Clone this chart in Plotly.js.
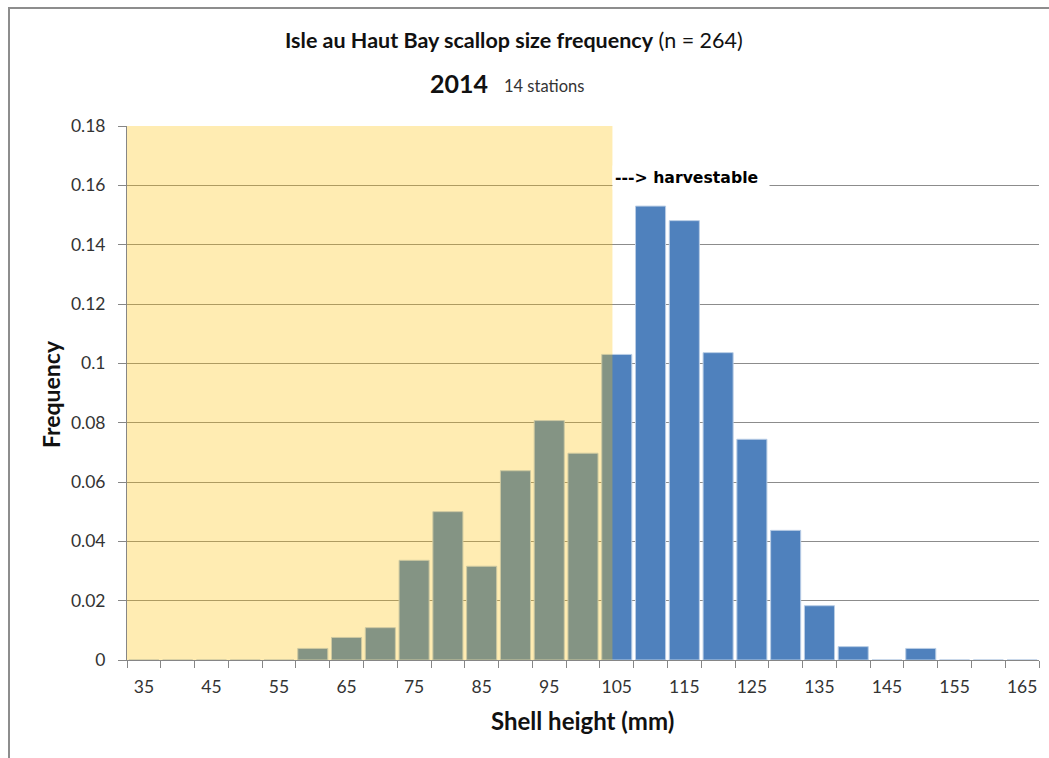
<!DOCTYPE html>
<html>
<head>
<meta charset="utf-8">
<script src="https://cdn.plot.ly/plotly-3.0.1.min.js"></script>
<style>
  html, body { margin: 0; padding: 0; background: #ffffff; overflow: hidden; }
  #chart { position: absolute; left: 0; top: 0; width: 1049px; height: 758px; }
  #frame {
    position: absolute; left: 8px; top: 7px; width: 1200px; height: 900px;
    border-left: 2px solid #8d8d8d; border-top: 2px solid #8d8d8d;
    pointer-events: none; box-sizing: border-box;
  }
</style>
</head>
<body>
<div id="chart"></div>
<div id="frame"></div>
<script>
// Shell height classes (mm), 5 mm bins
const shellHeight = [35, 40, 45, 50, 55, 60, 65, 70, 75, 80, 85, 90, 95, 100,
                     105, 110, 115, 120, 125, 130, 135, 140, 145, 150, 155, 160, 165];
// Relative frequency per class
const frequency = [0, 0, 0, 0, 0, 0.0039, 0.0076, 0.0109, 0.0336, 0.0500, 0.0316, 0.0638, 0.0807, 0.0697,
                   0.1030, 0.1530, 0.1481, 0.1036, 0.0744, 0.0437, 0.0183, 0.0045, 0, 0.0039, 0, 0, 0];

// Axis labels
const xTickVals = [35, 45, 55, 65, 75, 85, 95, 105, 115, 125, 135, 145, 155, 165];
const xTickText = xTickVals.map(String);
const yTickVals = [0, 0.02, 0.04, 0.06, 0.08, 0.1, 0.12, 0.14, 0.16, 0.18];
const yTickText = ['0', '0.02', '0.04', '0.06', '0.08', '0.1', '0.12', '0.14', '0.16', '0.18'];

// Below this shell height scallops are not harvestable
const harvestLimit = 104.36;
const binWidth = 5;

const xMin = shellHeight[0] - binWidth / 2;
const xMax = shellHeight[shellHeight.length - 1] + binWidth / 2;
const binEdges = shellHeight.map(v => v - binWidth / 2).concat([xMax]);

const FONT = 'Lato, "Open Sans", sans-serif';
const AXIS_GREY = '#868686';

const trace = {
  type: 'bar',
  x: shellHeight,
  y: frequency,
  marker: { color: '#4f81bd', line: { color: '#b9cde5', width: 1 } },
  hoverinfo: 'x+y'
};

const layout = {
  width: 1049,
  height: 758,
  margin: { l: 127, r: 10, t: 126, b: 98 },
  paper_bgcolor: '#ffffff',
  plot_bgcolor: '#ffffff',
  showlegend: false,
  bargap: 0.11,
  font: { family: FONT, color: '#333333', size: 17 },
  xaxis: {
    range: [xMin, xMax],
    tickmode: 'array',
    tickvals: xTickVals,
    ticktext: xTickText,
    ticks: 'outside',
    ticklen: 7,
    tickcolor: 'rgba(0,0,0,0)',
    ticklabelstandoff: 4,
    tickfont: { family: FONT, size: 17.5, color: '#333333' },
    showgrid: false,
    zeroline: false,
    showline: true,
    linecolor: AXIS_GREY,
    linewidth: 1,
    minor: {
      tickmode: 'array',
      tickvals: binEdges,
      ticks: 'outside',
      ticklen: 7,
      tickcolor: AXIS_GREY,
      tickwidth: 1,
      showgrid: false
    },
    fixedrange: true
  },
  yaxis: {
    range: [0, 0.18],
    tickmode: 'array',
    tickvals: yTickVals,
    ticktext: yTickText,
    ticks: 'outside',
    ticklen: 8,
    tickcolor: AXIS_GREY,
    ticklabelstandoff: 9,
    tickfont: { family: FONT, size: 17.5, color: '#333333' },
    showgrid: true,
    gridcolor: '#8c8c8c',
    gridwidth: 1,
    zeroline: false,
    showline: true,
    linecolor: AXIS_GREY,
    linewidth: 1,
    fixedrange: true
  },
  shapes: [
    {
      // undersized region
      type: 'rect', xref: 'x', yref: 'y', layer: 'above',
      x0: xMin, x1: harvestLimit, y0: 0, y1: 0.18,
      fillcolor: 'rgba(255,192,0,0.3)',
      line: { width: 0 }
    }
  ],
  annotations: [
    {
      xref: 'paper', yref: 'paper', x: 0.4238, y: 1.1610,
      xanchor: 'center', yanchor: 'middle', showarrow: false,
      text: '<b>Isle au Haut Bay scallop size frequency</b> (n = 264)',
      font: { family: FONT, size: 21.5, color: '#111111' }
    },
    {
      xref: 'paper', yref: 'paper', x: 0.3635, y: 1.0805,
      xanchor: 'center', yanchor: 'middle', showarrow: false,
      text: '<b>2014</b>',
      font: { family: FONT, size: 25, color: '#111111' }
    },
    {
      xref: 'paper', yref: 'paper', x: 0.4572, y: 1.0740,
      xanchor: 'center', yanchor: 'middle', showarrow: false,
      text: '14 stations',
      font: { family: FONT, size: 16.5, color: '#333333' }
    },
    {
      xref: 'x', yref: 'y', x: harvestLimit, y: 0.1628,
      xanchor: 'left', yanchor: 'middle', showarrow: false,
      text: '<b>---> harvestable</b>',
      align: 'left', width: 152, borderpad: 2,
      bgcolor: '#ffffff',
      font: { family: '"DejaVu Sans", Verdana, sans-serif', size: 15.7, color: '#000000' }
    },
    {
      xref: 'paper', yref: 'paper', x: -0.0833, y: 0.498,
      xanchor: 'center', yanchor: 'middle', showarrow: false, textangle: -90,
      text: '<b>Frequency</b>',
      font: { family: FONT, size: 23, color: '#111111' }
    },
    {
      xref: 'paper', yref: 'paper', x: 0.4995, y: -0.1142,
      xanchor: 'center', yanchor: 'middle', showarrow: false,
      text: '<b>Shell height (mm)</b>',
      font: { family: FONT, size: 24, color: '#111111' }
    }
  ]
};

Plotly.newPlot('chart', [trace], layout, { displayModeBar: false, staticPlot: true });
</script>
</body>
</html>
